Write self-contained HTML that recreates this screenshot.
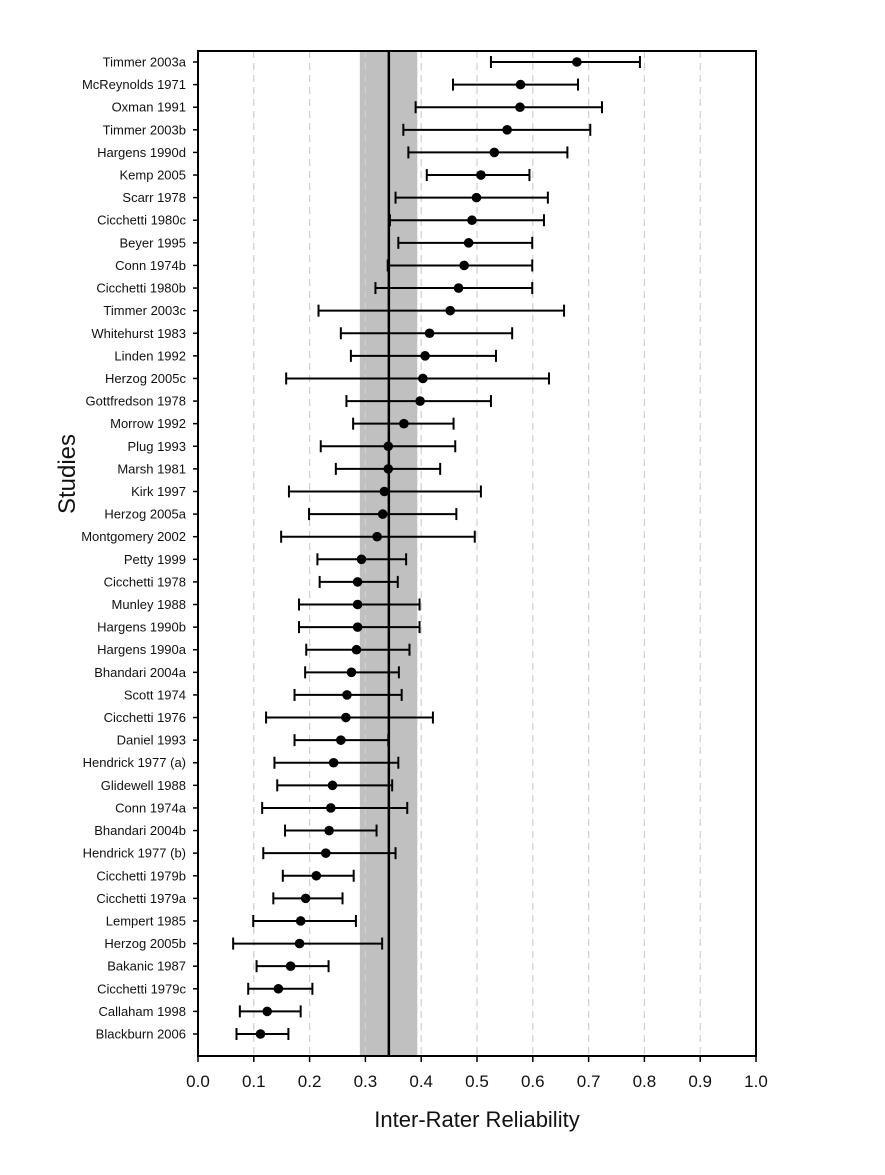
<!DOCTYPE html>
<html><head><meta charset="utf-8"><style>
body{margin:0;background:#fff;}
svg{display:block;font-family:"Liberation Sans",Arial,sans-serif;}
</style></head><body>
<svg id="chart" width="885" height="1175" xmlns="http://www.w3.org/2000/svg"></svg>
<script>
const studies=["Timmer 2003a","McReynolds 1971","Oxman 1991","Timmer 2003b","Hargens 1990d","Kemp 2005","Scarr 1978","Cicchetti 1980c","Beyer 1995","Conn 1974b","Cicchetti 1980b","Timmer 2003c","Whitehurst 1983","Linden 1992","Herzog 2005c","Gottfredson 1978","Morrow 1992","Plug 1993","Marsh 1981","Kirk 1997","Herzog 2005a","Montgomery 2002","Petty 1999","Cicchetti 1978","Munley 1988","Hargens 1990b","Hargens 1990a","Bhandari 2004a","Scott 1974","Cicchetti 1976","Daniel 1993","Hendrick 1977 (a)","Glidewell 1988","Conn 1974a","Bhandari 2004b","Hendrick 1977 (b)","Cicchetti 1979b","Cicchetti 1979a","Lempert 1985","Herzog 2005b","Bakanic 1987","Cicchetti 1979c","Callaham 1998","Blackburn 2006"];
const estimates=[0.679,0.578,0.577,0.554,0.531,0.507,0.499,0.491,0.485,0.477,0.467,0.452,0.415,0.407,0.403,0.398,0.369,0.341,0.341,0.334,0.331,0.321,0.293,0.286,0.286,0.286,0.284,0.275,0.267,0.265,0.256,0.243,0.241,0.238,0.235,0.229,0.212,0.193,0.184,0.182,0.166,0.144,0.124,0.112];
const lower=[0.525,0.457,0.390,0.368,0.377,0.410,0.354,0.344,0.359,0.340,0.318,0.216,0.256,0.274,0.158,0.266,0.278,0.220,0.247,0.163,0.199,0.149,0.214,0.218,0.181,0.181,0.194,0.192,0.173,0.122,0.173,0.137,0.142,0.115,0.156,0.117,0.152,0.135,0.099,0.063,0.105,0.090,0.075,0.069];
const upper=[0.792,0.681,0.724,0.703,0.662,0.594,0.627,0.620,0.599,0.599,0.599,0.656,0.563,0.534,0.629,0.525,0.458,0.461,0.434,0.507,0.463,0.496,0.373,0.358,0.397,0.397,0.379,0.360,0.365,0.421,0.341,0.359,0.348,0.375,0.320,0.354,0.279,0.259,0.283,0.330,0.234,0.205,0.184,0.162];
const pooled=[0.342];
const pooledCI=[0.290,0.393];
const xTicks=[0,0.1,0.2,0.3,0.4,0.5,0.6,0.7,0.8,0.9,1.0];

const L=198,R=756,T=51,B=1056,Y0=62,Y1=1034;
const sx=v=>L+v*(R-L);
const sy=i=>Y0+i*(Y1-Y0)/(studies.length-1);
const svg=document.getElementById('chart');
const NS='http://www.w3.org/2000/svg';
function mk(tag,attrs,parent){const e=document.createElementNS(NS,tag);for(const k in attrs)e.setAttribute(k,attrs[k]);(parent||svg).appendChild(e);return e;}

let band=mk('rect',{x:sx(pooledCI[0]),y:T,width:sx(pooledCI[1])-sx(pooledCI[0]),height:B-T,fill:'#c0c0c0'});


xTicks.slice(1,-1).forEach(t=>{
  let g=mk('line',{x1:sx(t),x2:sx(t),y1:T,y2:B,stroke:'#cfcfcf','stroke-width':1.2,'stroke-dasharray':'7,5'});
  
  
});
let ml=mk('line',{x1:sx(pooled[0]),x2:sx(pooled[0]),y1:T,y2:B,stroke:'#000','stroke-width':2.5});



studies.forEach((s,i)=>{
  const y=sy(i);
  let g=mk('g',{});
  
  
  mk('line',{x1:sx(lower[i]),x2:sx(upper[i]),y1:y,y2:y,stroke:'#000','stroke-width':2},g);
  mk('line',{x1:sx(lower[i]),x2:sx(lower[i]),y1:y-6,y2:y+6,stroke:'#000','stroke-width':2},g);
  mk('line',{x1:sx(upper[i]),x2:sx(upper[i]),y1:y-6,y2:y+6,stroke:'#000','stroke-width':2},g);
  let c=mk('circle',{cx:sx(estimates[i]),cy:y,r:4.8,fill:'#000'},g);
  
  
  mk('line',{x1:L-5,x2:L,y1:y,y2:y,stroke:'#000','stroke-width':1.5},g);
  let t=mk('text',{x:L-12,y:y+4.5,'text-anchor':'end','font-size':13,fill:'#111'},g);
  t.textContent=s;
  
  
});

let frame=mk('rect',{x:L,y:T,width:R-L,height:B-T,fill:'none',stroke:'#000','stroke-width':2});


xTicks.forEach(t=>{
  mk('line',{x1:sx(t),x2:sx(t),y1:B,y2:B+6,stroke:'#000','stroke-width':1.5});
  let tx=mk('text',{x:sx(t),y:B+31,'text-anchor':'middle','font-size':17,fill:'#111'});
  tx.textContent=t.toFixed(1);
  
  
});
let xt=mk('text',{x:(L+R)/2,y:1127,'text-anchor':'middle','font-size':22,fill:'#111'});
xt.textContent='Inter-Rater Reliability';


let yt=mk('text',{x:0,y:0,'text-anchor':'middle','font-size':24,fill:'#111',transform:'translate(75,474) rotate(-90)'});
yt.textContent='Studies';


</script>
</body></html>
